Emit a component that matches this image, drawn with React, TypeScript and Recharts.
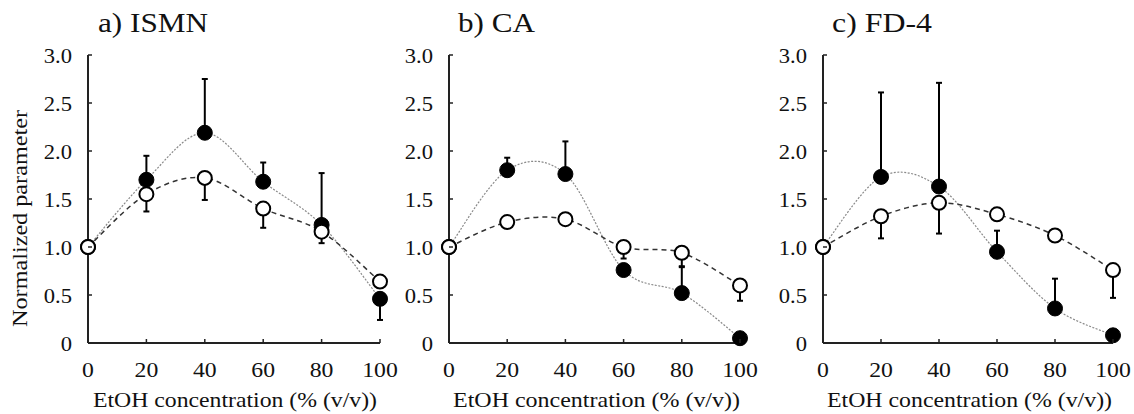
import { ErrorBar, Line, LineChart, XAxis, YAxis } from 'recharts';

const FONT = 'Liberation Serif, DejaVu Serif, serif';

const etoh = [0, 20, 40, 60, 80, 100];
const xTicks = [0, 20, 40, 60, 80, 100];
const yTicks = [0, 0.5, 1, 1.5, 2, 2.5, 3];

// a) ISMN
const ismnFilled = [1.0, 1.7, 2.19, 1.68, 1.23, 0.46];
const ismnFilledErr = [[0, 0], [0, 0.25], [0, 0.56], [0, 0.2], [0, 0.54], [0.22, 0]];
const ismnOpen = [1.0, 1.55, 1.72, 1.4, 1.16, 0.64];
const ismnOpenErr = [[0, 0], [0.18, 0], [0.23, 0], [0.2, 0], [0.12, 0], [0, 0]];

// b) CA
const caFilled = [1.0, 1.8, 1.76, 0.76, 0.52, 0.05];
const caFilledErr = [[0, 0], [0, 0.13], [0, 0.34], [0, 0], [0, 0.27], [0, 0]];
const caOpen = [1.0, 1.26, 1.29, 1.0, 0.94, 0.6];
const caOpenErr = [[0, 0], [0, 0], [0, 0], [0.12, 0], [0.14, 0], [0.16, 0]];

// c) FD-4
const fdFilled = [1.0, 1.73, 1.63, 0.95, 0.36, 0.08];
const fdFilledErr = [[0, 0], [0, 0.88], [0, 1.08], [0, 0.22], [0, 0.31], [0, 0]];
const fdOpen = [1.0, 1.32, 1.46, 1.34, 1.12, 0.76];
const fdOpenErr = [[0, 0], [0.23, 0], [0.32, 0], [0, 0], [0, 0], [0.29, 0]];

// Excel-style smoothed line (bezier through points, 1/6 tangents)
const smoothCurve = (ctx: any) => {
  let pts: number[][] = [];
  return {
    areaStart() {},
    areaEnd() {},
    lineStart() {
      pts = [];
    },
    point(x: number, y: number) {
      pts.push([+x, +y]);
    },
    lineEnd() {
      const n = pts.length;
      if (!n) return;
      ctx.moveTo(pts[0][0], pts[0][1]);
      for (let i = 0; i < n - 1; i++) {
        const p0 = pts[Math.max(i - 1, 0)];
        const p1 = pts[i];
        const p2 = pts[i + 1];
        const p3 = pts[Math.min(i + 2, n - 1)];
        ctx.bezierCurveTo(
          p1[0] + (p2[0] - p0[0]) / 6,
          p1[1] + (p2[1] - p0[1]) / 6,
          p2[0] - (p3[0] - p1[0]) / 6,
          p2[1] - (p3[1] - p1[1]) / 6,
          p2[0],
          p2[1],
        );
      }
    },
  };
};

const PLOT_TOP = 55;
const PLOT_BOTTOM = 343;
const Y_AXIS_W = 40;
const X_AXIS_H = 40;
const STRETCH = 1.13;

const XTick = (props: any) => {
  const { x, y, payload } = props;
  return (
    <g>
      <line x1={x} x2={x} y1={y} y2={y - 4} stroke="#222" strokeWidth={1.5} />
      <text
        transform={`translate(${x} ${y + 34}) scale(${STRETCH} 1)`}
        textAnchor="middle"
        fill="#111"
        style={{ fontFamily: FONT, fontSize: 21 }}
      >
        {payload.value}
      </text>
    </g>
  );
};

const YTick = (props: any) => {
  const { x, y, payload } = props;
  const ax = x + 16;
  return (
    <g>
      <line x1={ax} x2={ax + 4} y1={y} y2={y} stroke="#222" strokeWidth={1.5} />
      <text
        transform={`translate(${x} ${y + 7.5}) scale(${STRETCH} 1)`}
        textAnchor="end"
        fill="#111"
        style={{ fontFamily: FONT, fontSize: 20 }}
      >
        {payload.value === 0 ? '0' : payload.value.toFixed(1)}
      </text>
    </g>
  );
};

interface PanelProps {
  left: number;
  plotLeft: number;
  plotRight: number;
  filled: number[];
  filledErr: number[][];
  open: number[];
  openErr: number[][];
}

function Panel({ left, plotLeft, plotRight, filled, filledErr, open, openErr }: PanelProps) {
  const data = etoh.map((x, i) => ({ x, f: filled[i], fe: filledErr[i], o: open[i], oe: openErr[i] }));
  const width = plotRight - left + 30;
  return (
    <div style={{ position: 'absolute', left, top: 0 }}>
      <LineChart
        width={width}
        height={414}
        data={data}
        margin={{ top: PLOT_TOP, right: 30, bottom: 414 - PLOT_BOTTOM - X_AXIS_H, left: plotLeft - left - Y_AXIS_W }}
      >
        <XAxis
          dataKey="x"
          type="number"
          domain={[0, 100]}
          ticks={xTicks}
          height={X_AXIS_H}
          tickSize={0}
          tickMargin={0}
          tickLine={false}
          tick={<XTick />}
          axisLine={{ stroke: '#222', strokeWidth: 2 }}
          interval={0}
        />
        <YAxis
          type="number"
          domain={[0, 3]}
          ticks={yTicks}
          width={Y_AXIS_W}
          tickSize={0}
          tickMargin={16}
          tickLine={false}
          tick={<YTick />}
          axisLine={{ stroke: '#222', strokeWidth: 2 }}
          interval={0}
        />
        <Line
          dataKey="f"
          type={smoothCurve as any}
          stroke="#8a8a8a"
          strokeWidth={1.2}
          strokeDasharray="2 1.5"
          dot={{ r: 7.5, fill: '#000', stroke: '#000', strokeWidth: 1, strokeDasharray: '0' }}
          activeDot={false}
          isAnimationActive={false}
        >
          <ErrorBar dataKey="fe" direction="y" width={3} stroke="#000" strokeWidth={2} isAnimationActive={false} />
        </Line>
        <Line
          dataKey="o"
          type={smoothCurve as any}
          stroke="#333"
          strokeWidth={1.5}
          strokeDasharray="5 4"
          dot={{ r: 7, fill: '#fff', stroke: '#000', strokeWidth: 2, strokeDasharray: '0' }}
          activeDot={false}
          isAnimationActive={false}
        >
          <ErrorBar dataKey="oe" direction="y" width={3} stroke="#000" strokeWidth={2} isAnimationActive={false} />
        </Line>
      </LineChart>
    </div>
  );
}

export default function App() {
  const t = { fontFamily: FONT, fill: '#111' };
  const adj = 'spacingAndGlyphs';
  return (
    <div style={{ position: 'absolute', left: 0, top: 0, width: 1134, height: 414, background: '#fff', overflow: 'hidden' }}>
      <Panel left={0} plotLeft={88} plotRight={380} filled={ismnFilled} filledErr={ismnFilledErr} open={ismnOpen} openErr={ismnOpenErr} />
      <Panel left={390} plotLeft={449} plotRight={740} filled={caFilled} filledErr={caFilledErr} open={caOpen} openErr={caOpenErr} />
      <Panel left={760} plotLeft={823} plotRight={1113} filled={fdFilled} filledErr={fdFilledErr} open={fdOpen} openErr={fdOpenErr} />
      <svg width={1134} height={414} style={{ position: 'absolute', left: 0, top: 0, pointerEvents: 'none' }}>
        <text x={98} y={32} textLength={110} lengthAdjust={adj} style={{ ...t, fontSize: 27 }}>a) ISMN</text>
        <text x={458} y={32} textLength={77} lengthAdjust={adj} style={{ ...t, fontSize: 27 }}>b) CA</text>
        <text x={832} y={32} textLength={100} lengthAdjust={adj} style={{ ...t, fontSize: 27 }}>c) FD-4</text>
        <text x={93} y={407} textLength={284} lengthAdjust={adj} style={{ ...t, fontSize: 22 }}>EtOH concentration (% (v/v))</text>
        <text x={453} y={407} textLength={287} lengthAdjust={adj} style={{ ...t, fontSize: 22 }}>EtOH concentration (% (v/v))</text>
        <text x={827} y={407} textLength={285} lengthAdjust={adj} style={{ ...t, fontSize: 22 }}>EtOH concentration (% (v/v))</text>
        <text
          x={0}
          y={0}
          textLength={217}
          lengthAdjust={adj}
          transform="translate(27 327) rotate(-90)"
          style={{ ...t, fontSize: 21 }}
        >
          Normalized parameter
        </text>
      </svg>
    </div>
  );
}
